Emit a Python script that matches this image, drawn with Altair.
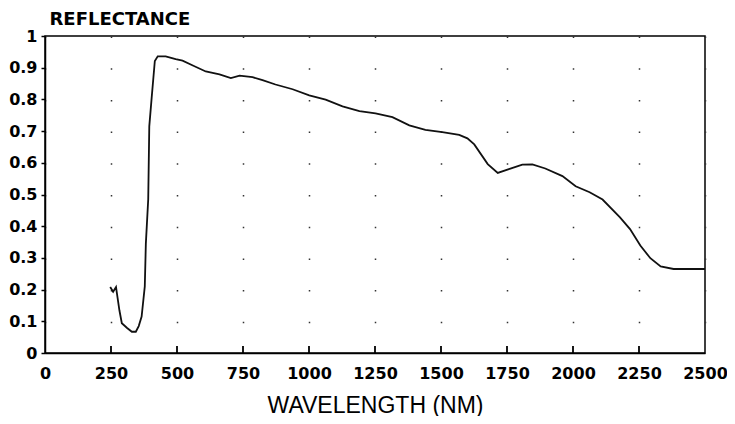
import altair as alt
import pandas as pd

# Spectrum (wavelength nm, reflectance)
wavelength = [247, 258, 269, 282, 291, 311, 329, 344, 355, 366, 378, 382, 391, 395, 404,
              416, 427, 457, 495, 521, 560, 609, 661, 704, 737, 786, 824, 873, 938, 1001,
              1063, 1127, 1191, 1252, 1316, 1380, 1441, 1505, 1569, 1600, 1626, 1677, 1715,
              1760, 1808, 1846, 1895, 1960, 2010, 2063, 2112, 2178, 2216, 2255, 2293, 2332,
              2381, 2456, 2500]
reflectance = [0.208, 0.193, 0.208, 0.134, 0.094, 0.079, 0.067, 0.067, 0.085, 0.115, 0.21,
               0.345, 0.485, 0.715, 0.805, 0.921, 0.936, 0.936, 0.927, 0.922, 0.907, 0.888,
               0.879, 0.867, 0.875, 0.87, 0.861, 0.847, 0.832, 0.813, 0.799, 0.778, 0.763,
               0.756, 0.744, 0.718, 0.704, 0.697, 0.688, 0.677, 0.658, 0.596, 0.568, 0.581,
               0.594, 0.595, 0.582, 0.558, 0.526, 0.507, 0.484, 0.428, 0.391, 0.339, 0.299,
               0.273, 0.265, 0.265, 0.265]

x_ticks = [0, 250, 500, 750, 1000, 1250, 1500, 1750, 2000, 2250, 2500]
y_ticks = [0, 0.1, 0.2, 0.3, 0.4, 0.5, 0.6, 0.7, 0.8, 0.9, 1]

W, H = 660, 317

df = pd.DataFrame({"wl": wavelength, "r": reflectance})
ticks_df = pd.DataFrame({"t": x_ticks[1:-1]})

xscale = alt.Scale(domain=[0, 2500], nice=False, zero=False)
yscale = alt.Scale(domain=[0, 1], nice=False)

x_axis = alt.Axis(values=x_ticks, format="d", title="WAVELENGTH (NM)", ticks=False, tickSize=0,
                  labelOverlap=False, labelFlush=False,
                  labelFont="DejaVu Sans", labelFontWeight="bold", labelFontSize=16,
                  labelColor="black", labelPadding=20, labelBaseline="middle",
                  titleFont="Liberation Sans", titleFontSize=23, titleFontWeight="normal",
                  titleColor="black", titleBaseline="middle", titleY=52,
                  domainColor="black", domainWidth=1.5,
                  grid=True, gridColor="#333333", gridWidth=1.5, gridOpacity=1,
                  gridDash=[1.5, 30.2])
y_axis = alt.Axis(values=y_ticks, title="REFLECTANCE", labelOverlap=False, labelFlush=False,
                  labelExpr="datum.value == 0 ? '0' : datum.value == 1 ? '1' : format(datum.value, '.1f')",
                  labelFont="DejaVu Sans", labelFontWeight="bold", labelFontSize=16,
                  labelColor="black", labelPadding=4, tickSize=4, tickColor="black",
                  tickWidth=1.5, domainColor="black", domainWidth=1.5, grid=False,
                  titleAngle=0, titleAlign="left", titleBaseline="middle",
                  titleX=4, titleY=-17, titleFont="DejaVu Sans", titleFontWeight="bold",
                  titleFontSize=18, titleColor="black")

line = alt.Chart(df).mark_line(color="#111111", strokeWidth=1.8).encode(
    x=alt.X("wl:Q", scale=xscale, axis=x_axis),
    y=alt.Y("r:Q", scale=yscale, axis=y_axis),
)

inner_ticks = alt.Chart(ticks_df).mark_rule(color="black", strokeWidth=1.8).encode(
    x=alt.X("t:Q", scale=xscale, axis=x_axis),
    y=alt.Y(datum=0, scale=yscale, axis=y_axis),
    y2=alt.Y2(datum=0.022),
)

chart = alt.layer(line, inner_ticks).properties(
    width=W, height=H,
    background="white",
    autosize=alt.AutoSizeParams(type="none"),
    padding={"left": 37, "top": 28, "right": 22, "bottom": 63},
).configure_view(stroke="black", strokeWidth=1.5)

chart.save("out.html", embed_options={"renderer": "svg", "actions": False})
